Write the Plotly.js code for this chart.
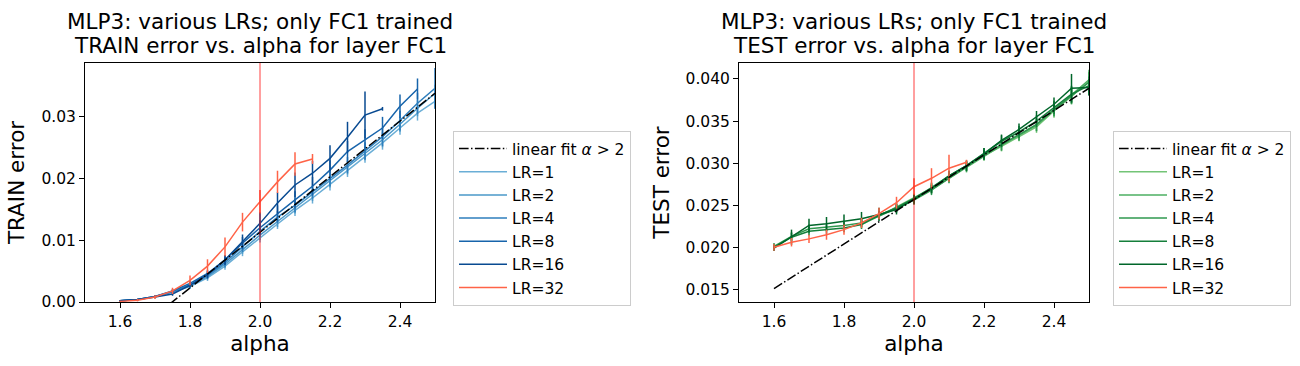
<!DOCTYPE html>
<html>
<head>
<meta charset="utf-8">
<script src="https://cdn.plot.ly/plotly-3.0.1.min.js"></script>
<style>
  body { margin: 0; background: #fff; }
  #chart { width: 1300px; height: 366px; }
</style>
</head>
<body>
<div id="chart"></div>
<script>
// alpha grid shared by every run
let alphas = [1.6, 1.65, 1.7, 1.75, 1.8, 1.85, 1.9, 1.95, 2.0, 2.05, 2.1, 2.15, 2.2, 2.25, 2.3, 2.35, 2.4, 2.45, 2.5];
let lrNames = ["LR=1", "LR=2", "LR=4", "LR=8", "LR=16", "LR=32"];

// TRAIN error (left)
let train1 = [0.0002, 0.0004, 0.0008, 0.0016, 0.0025, 0.0039, 0.0058, 0.0081, 0.0104, 0.0126, 0.0148, 0.0168, 0.0190, 0.0212, 0.0235, 0.0257, 0.0281, 0.0305, 0.0324];
let train2 = [0.0002, 0.0004, 0.0009, 0.0016, 0.0026, 0.0041, 0.0061, 0.0085, 0.0108, 0.0130, 0.0152, 0.0173, 0.0195, 0.0217, 0.0240, 0.0262, 0.0287, 0.0313, 0.0337];
let train4 = [0.0002, 0.0004, 0.0009, 0.0017, 0.0028, 0.0043, 0.0064, 0.0089, 0.0114, 0.0137, 0.0156, 0.0178, 0.0199, 0.0221, 0.0244, 0.0267, 0.0293, 0.0321, 0.0345];
let train8 = [0.0002, 0.0004, 0.0009, 0.0018, 0.0030, 0.0046, 0.0068, 0.0095, 0.0120, 0.0143, 0.0165, 0.0187, 0.0213, 0.0243, 0.0262, 0.0281, 0.0316, 0.0344];
let train16 = [0.0002, 0.0004, 0.0008, 0.0013, 0.0027, 0.0044, 0.0068, 0.0098, 0.0127, 0.0160, 0.0189, 0.0208, 0.0232, 0.0266, 0.0302, 0.0312];
let train32 = [0.0001, 0.0003, 0.0008, 0.0018, 0.0035, 0.0058, 0.0089, 0.0129, 0.0162, 0.0194, 0.0223, 0.0231];

let trainErr1 = [0.0001, 0.0001, 0.0002, 0.0003, 0.0004, 0.0005, 0.0006, 0.0007, 0.0008, 0.0008, 0.0009, 0.0009, 0.0010, 0.0010, 0.0010, 0.0011, 0.0011, 0.0012, 0.0012];
let trainErr2 = [0.0001, 0.0001, 0.0002, 0.0003, 0.0004, 0.0005, 0.0006, 0.0007, 0.0008, 0.0009, 0.0009, 0.0010, 0.0010, 0.0011, 0.0011, 0.0012, 0.0012, 0.0013, 0.0014];
let trainErr4 = [0.0001, 0.0001, 0.0002, 0.0003, 0.0004, 0.0005, 0.0007, 0.0008, 0.0009, 0.0010, 0.0011, 0.0011, 0.0012, 0.0013, 0.0014, 0.0015, 0.0016, 0.0017, 0.0033];
let trainErr8 = [0.0001, 0.0001, 0.0002, 0.0003, 0.0004, 0.0006, 0.0008, 0.0010, 0.0012, 0.0013, 0.0014, 0.0015, 0.0016, 0.0017, 0.0017, 0.0018, 0.0019, 0.0017];
let trainErr16 = [0.0001, 0.0001, 0.0002, 0.0003, 0.0004, 0.0006, 0.0008, 0.0011, 0.0018, 0.0017, 0.0020, 0.0020, 0.0021, 0.0025, 0.0038, 0.0003];
let trainErr32 = [0.0001, 0.0002, 0.0003, 0.0005, 0.0008, 0.0011, 0.0015, 0.0015, 0.0019, 0.0018, 0.0019, 0.0008];

// TEST error (right); LR=1 and LR=2 only from alpha 1.85
let test1 = [null, null, null, null, null, 0.0227, 0.0237, 0.0248, 0.0259, 0.0270, 0.0283, 0.0296, 0.0309, 0.0320, 0.0332, 0.0343, 0.0362, 0.0380, 0.0397];
let test2 = [null, null, null, null, null, 0.0229, 0.0238, 0.0247, 0.0258, 0.0269, 0.0282, 0.0295, 0.0309, 0.0321, 0.0333, 0.0345, 0.0363, 0.0381, 0.0399];
let test4 = [0.0201, 0.0213, 0.0222, 0.0224, 0.0226, 0.0229, 0.0237, 0.0246, 0.0256, 0.0268, 0.0282, 0.0296, 0.0310, 0.0322, 0.0334, 0.0346, 0.0364, 0.0380, 0.0396];
let test8 = [0.0200, 0.0212, 0.0219, 0.0221, 0.0223, 0.0227, 0.0238, 0.0247, 0.0258, 0.0271, 0.0285, 0.0297, 0.0312, 0.0326, 0.0337, 0.0350, 0.0366, 0.0382, 0.0392];
let test16 = [0.0199, 0.0212, 0.0226, 0.0228, 0.0231, 0.0234, 0.0239, 0.0245, 0.0257, 0.0270, 0.0285, 0.0297, 0.0311, 0.0327, 0.0340, 0.0355, 0.0370, 0.0389, 0.0390];
let test32 = [0.0200, 0.0206, 0.0210, 0.0215, 0.0221, 0.0229, 0.0240, 0.0253, 0.0272, 0.0282, 0.0294, 0.0301];

let testErr1 = [null, null, null, null, null, 0.0005, 0.0005, 0.0005, 0.0005, 0.0005, 0.0005, 0.0005, 0.0006, 0.0006, 0.0006, 0.0007, 0.0008, 0.0010, 0.0012];
let testErr2 = [null, null, null, null, null, 0.0005, 0.0005, 0.0005, 0.0005, 0.0005, 0.0005, 0.0006, 0.0006, 0.0006, 0.0006, 0.0007, 0.0008, 0.0010, 0.0012];
let testErr4 = [0.0004, 0.0005, 0.0005, 0.0005, 0.0005, 0.0005, 0.0005, 0.0005, 0.0005, 0.0006, 0.0006, 0.0006, 0.0006, 0.0007, 0.0007, 0.0008, 0.0008, 0.0010, 0.0012];
let testErr8 = [0.0004, 0.0005, 0.0005, 0.0005, 0.0005, 0.0005, 0.0005, 0.0005, 0.0005, 0.0006, 0.0006, 0.0006, 0.0006, 0.0007, 0.0007, 0.0007, 0.0008, 0.0010, 0.0011];
let testErr16 = [0.0003, 0.0009, 0.0008, 0.0008, 0.0008, 0.0008, 0.0008, 0.0006, 0.0006, 0.0006, 0.0006, 0.0006, 0.0007, 0.0007, 0.0007, 0.0007, 0.0008, 0.0017, 0.0010];
let testErr32 = [0.0004, 0.0005, 0.0005, 0.0006, 0.0006, 0.0006, 0.0007, 0.0007, 0.0010, 0.0012, 0.0016, 0.0003];

// linear fits (endpoints)
let fitAlpha = [1.6, 2.5];
let trainFit = [-0.0067, 0.0337];
let testFit = [0.0151, 0.0389];

let blues = ["#6aaed6", "#4a98c9", "#2e7ebc", "#1764ab", "#084a91", "tomato"];
let greens = ["#73c476", "#4daf62", "#2f984f", "#157f3b", "#00662a", "tomato"];

let trainVals = [train1, train2, train4, train8, train16, train32];
let trainErrs = [trainErr1, trainErr2, trainErr4, trainErr8, trainErr16, trainErr32];
let testVals = [test1, test2, test4, test8, test16, test32];
let testErrs = [testErr1, testErr2, testErr4, testErr8, testErr16, testErr32];

let font = "DejaVu Sans, sans-serif";
let data = [];

function addRuns(vals, errs, colors, xa, ya, leg) {
  for (let i = 0; i < vals.length; i++) {
    data.push({
      x: alphas.slice(0, vals[i].length), y: vals[i],
      type: "scatter", mode: "lines", name: lrNames[i],
      xaxis: xa, yaxis: ya, legend: leg,
      line: {color: colors[i], width: 1.5},
      error_y: {type: "data", array: errs[i], visible: true, color: colors[i], thickness: 1.5, width: 0}
    });
  }
}

addRuns(trainVals, trainErrs, blues, "x", "y", "legend");
data.push({x: fitAlpha, y: trainFit, type: "scatter", mode: "lines", name: "linear fit <i>α</i> > 2",
  xaxis: "x", yaxis: "y", legend: "legend", legendrank: 1,
  line: {color: "black", width: 1.5, dash: "9.6px,2.4px,1.5px,2.4px"}});

addRuns(testVals, testErrs, greens, "x2", "y2", "legend2");
data.push({x: fitAlpha, y: testFit, type: "scatter", mode: "lines", name: "linear fit <i>α</i> > 2",
  xaxis: "x2", yaxis: "y2", legend: "legend2", legendrank: 1,
  line: {color: "black", width: 1.5, dash: "9.6px,2.4px,1.5px,2.4px"}});

let H = 366, W = 1300;
let yDom = [(H - 302) / H, (H - 63) / H];

function xAxis(dom, anchor) {
  return {
    domain: dom, anchor: anchor, range: [1.5, 2.5], dtick: 0.2, tick0: 1.6, tickformat: ".1f",
    showline: true, mirror: true, linecolor: "black", linewidth: 1,
    ticks: "outside", ticklen: 5, tickcolor: "black", showgrid: false, zeroline: false,
    tickfont: {family: font, size: 15.5, color: "black"},
    title: {text: "alpha", font: {family: font, size: 21.5, color: "black"}, standoff: 2}
  };
}

function yAxis(range, dtick, fmt, label, anchor) {
  return {
    domain: yDom, anchor: anchor, range: range, dtick: dtick, tick0: 0, tickformat: fmt,
    showline: true, mirror: true, linecolor: "black", linewidth: 1,
    ticks: "outside", ticklen: 5, tickcolor: "black", showgrid: false, zeroline: false,
    tickfont: {family: font, size: 15.5, color: "black"},
    title: {text: label, font: {family: font, size: 21.5, color: "black"}, standoff: 10}
  };
}

let legendStyle = {
  xanchor: "left", yanchor: "top", y: (H - 131) / H,
  bordercolor: "#cccccc", borderwidth: 1, bgcolor: "white", itemwidth: 48,
  font: {family: font, size: 15.5, color: "black"}, tracegroupgap: 0
};

function titleLine(text, cx, cy) {
  return {text: text, xref: "paper", yref: "paper", x: cx / W, y: (H - cy) / H,
    xanchor: "center", yanchor: "middle", showarrow: false,
    font: {family: font, size: 21.5, color: "black"}};
}

let layout = {
  width: W, height: H,
  margin: {l: 0, r: 0, t: 0, b: 0},
  paper_bgcolor: "white", plot_bgcolor: "white",
  font: {family: font, color: "black"},
  xaxis: xAxis([85 / W, 435 / W], "y"),
  yaxis: yAxis([0, 0.0386], 0.01, ".2f", "TRAIN error", "x"),
  xaxis2: xAxis([739 / W, 1089 / W], "y2"),
  yaxis2: yAxis([0.0135, 0.0419], 0.005, ".3f", "TEST error", "x2"),
  legend: Object.assign({x: 453 / W}, legendStyle),
  legend2: Object.assign({x: 1113 / W}, legendStyle),
  annotations: [
    titleLine("MLP3: various LRs; only FC1 trained", 260, 22),
    titleLine("TRAIN error vs. alpha for layer FC1", 260, 45),
    titleLine("MLP3: various LRs; only FC1 trained", 914, 22),
    titleLine("TEST error vs. alpha for layer FC1", 914, 45)
  ],
  shapes: [
    {type: "line", xref: "x", yref: "y domain", x0: 2.0, x1: 2.0, y0: 0, y1: 1, line: {color: "rgba(255,0,0,0.75)", width: 1}},
    {type: "line", xref: "x2", yref: "y2 domain", x0: 2.0, x1: 2.0, y0: 0, y1: 1, line: {color: "rgba(255,0,0,0.75)", width: 1}}
  ]
};

Plotly.newPlot("chart", data, layout, {displayModeBar: false, staticPlot: true});
</script>
</body>
</html>
